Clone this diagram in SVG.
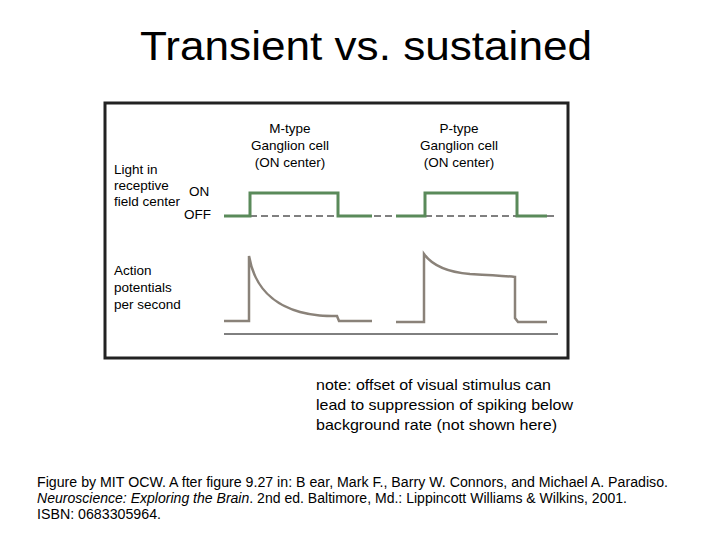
<svg xmlns="http://www.w3.org/2000/svg" width="720" height="540" viewBox="0 0 720 540">
<style>
text{font-family:"Liberation Sans",Arial,sans-serif;fill:#000}
.s{font-size:13.5px}
.g{fill:none;stroke:#5a8a5a;stroke-width:3}
.r{fill:none;stroke:#8a8279;stroke-width:2.5}
.d{fill:none;stroke:#000;stroke-width:1;stroke-dasharray:7,4}
</style>
<rect width="720" height="540" fill="#fff"/>
<text x="140" y="60" font-size="40" textLength="452" lengthAdjust="spacingAndGlyphs">Transient vs. sustained</text>
<rect x="105" y="103" width="463" height="255" fill="#fff" stroke="#222" stroke-width="3"/>
<g id="labels">
<text x="290" y="133" text-anchor="middle" class="s">M-type</text>
<text x="290" y="150" text-anchor="middle" class="s">Ganglion cell</text>
<text x="290" y="167" text-anchor="middle" class="s">(ON center)</text>
<text x="459" y="133" text-anchor="middle" class="s">P-type</text>
<text x="459" y="150" text-anchor="middle" class="s">Ganglion cell</text>
<text x="459" y="167" text-anchor="middle" class="s">(ON center)</text>
<text x="114" y="174" class="s">Light in</text>
<text x="114" y="190" class="s">receptive</text>
<text x="114" y="206" class="s">field center</text>
<text x="189" y="196" class="s">ON</text>
<text x="184" y="219" class="s">OFF</text>
<text x="114" y="275" class="s">Action</text>
<text x="114" y="292" class="s">potentials</text>
<text x="114" y="309" class="s">per second</text>
</g>
<g id="traces">
<line x1="250" y1="216" x2="338" y2="216" class="d"/>
<line x1="374" y1="216" x2="396" y2="216" class="d"/>
<line x1="425" y1="216" x2="517" y2="216" class="d"/>
<line x1="547" y1="216" x2="558" y2="216" class="d"/>
<path class="g" d="M224,216H250V193H338V216H372"/>
<path class="g" d="M396,216H425V193H517V216H547"/>
<path class="r" d="M224,321H249V256C255,290 275,305 300,312 C315,316 325,316 337,316 L339,321H372"/>
<path class="r" d="M396,322H424V254C432,265 445,272 470,274 C490,275 505,276 515,277 V318 L518,322H547"/>
<line x1="224" y1="334" x2="558" y2="334" stroke="#000" stroke-width="1"/>
</g>
<g id="notes">
<text x="316" y="390" font-size="15" textLength="235" lengthAdjust="spacingAndGlyphs">note: offset of visual stimulus can</text>
<text x="316" y="410" font-size="15" textLength="257" lengthAdjust="spacingAndGlyphs">lead to suppression of spiking below</text>
<text x="316" y="430" font-size="15" textLength="241" lengthAdjust="spacingAndGlyphs">background rate (not shown here)</text>
<text x="37" y="487" font-size="14" textLength="631" lengthAdjust="spacingAndGlyphs">Figure by MIT OCW. A fter figure 9.27 in: B ear, Mark F., Barry W. Connors, and Michael A. Paradiso.</text>
<text x="37" y="503" font-size="14" textLength="590" lengthAdjust="spacingAndGlyphs"><tspan font-style="italic">Neuroscience: Exploring the Brain</tspan>. 2nd ed. Baltimore, Md.: Lippincott Williams &amp; Wilkins, 2001.</text>
<text x="37" y="519" font-size="14" textLength="124" lengthAdjust="spacingAndGlyphs">ISBN: 0683305964.</text>
</g>
</svg>
